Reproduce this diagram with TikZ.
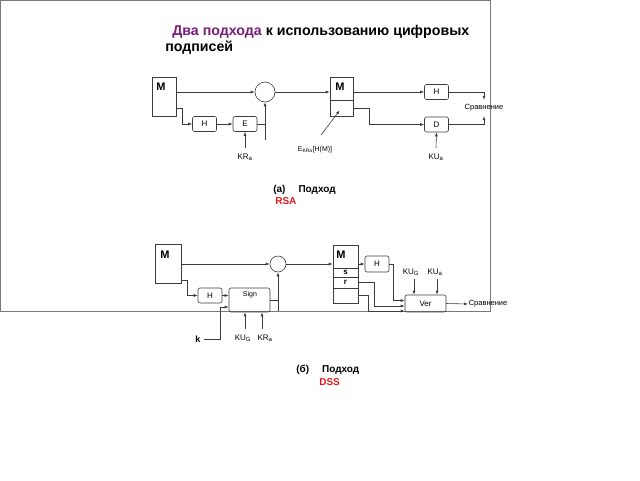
\documentclass[tikz,border=0pt]{standalone}
\usepackage{fontspec}
\setmainfont{Liberation Sans}
\usetikzlibrary{arrows.meta}
\definecolor{titlepurple}{RGB}{120,30,120}
\definecolor{framegray}{RGB}{120,120,120}
\definecolor{linegray}{RGB}{60,60,60}
\definecolor{capred}{RGB}{230,20,30}

\begin{document}
\begin{tikzpicture}[x=1pt,y=-1pt,line width=0.6pt,
		ln/.style={draw=linegray},
		arr/.style={draw=linegray,-{Latex[length=4pt,width=3pt]}},
		sqbox/.style={draw=linegray,inner sep=0pt,minimum width=24pt},
		blk/.style={draw=linegray,rounded corners=2pt,inner sep=0pt,minimum width=24pt,minimum height=15pt,font=\fontsize{8}{8}\selectfont},
		lbl/.style={inner sep=0.5pt,font=\fontsize{8}{8}\selectfont},
		bigm/.style={inner sep=0pt,font=\fontsize{11}{11}\selectfont\bfseries},
		captxt/.style={anchor=west,inner sep=0pt,font=\fontsize{10}{10}\selectfont\bfseries}]
		\useasboundingbox (0,0) rectangle (640,480);
		% border
		\draw[framegray,line width=0.9pt] (0.5,0.5) rectangle (490,311);
		% title
		\node[anchor=west,inner sep=0pt,font=\fontsize{14.2}{15}\selectfont\bfseries] (title1) at (172,32) {\textcolor{titlepurple}{Два подхода} к использованию цифровых};
		\node[anchor=west,inner sep=0pt,font=\fontsize{14.2}{15}\selectfont\bfseries] (title2) at (165,48) {подписей};

		% (a) RSA: blocks
		\node[sqbox,minimum height=39pt] (ma) at (164,96.5) {};
		\node[bigm] (matxt) at (161,87) {M};
		\node[draw=linegray,circle,minimum size=20pt,inner sep=0pt] (suma) at (265,92) {};
		\node[sqbox,minimum width=23pt,minimum height=23pt] (m2a) at (341.5,88.5) {};
		\node[sqbox,minimum width=23pt,minimum height=16pt] (s2a) at (341.5,108) {};
		\node[bigm] (m2atxt) at (340,87) {M};
		\node[blk] (ha) at (204.5,124) {H};
		\node[blk] (ea) at (245,124) {E};
		\node[blk] (hb) at (436.5,92) {H};
		\node[blk] (da) at (436.5,124.5) {D};
		% (a) labels
		\node[lbl] (kra) at (245,157) {KR\textsubscript{a}};
		\node[lbl,font=\fontsize{7}{7}\selectfont] (ekra) at (315,150) {E\textsubscript{KRa}[H(M)]};
		\node[lbl] (kua) at (436,157) {KU\textsubscript{a}};
		\node[lbl,font=\fontsize{7.5}{8}\selectfont] (cmpa) at (484,108) {Сравнение};
		\coordinate (ta) at (265,140);
		\coordinate (pa) at (321,135);
		% (a) connectors
		\draw[arr] (ma.east |- suma) -- (suma.west);
		\draw[arr] (suma.east) -- (m2a.west |- suma);
		\draw[arr] (ma.east |- 0,108) -- ++(6,0) |- (ha.west);
		\draw[arr] (ha) -- (ea);
		\draw[ln] (ea.east) -- (ea.east -| suma.south);
		\draw[arr] (ta) -- (suma.south);
		\draw[arr] ([yshift=5pt]kra.north) -- (ea.south);
		\draw[arr,shorten >=3pt] (pa) -- (s2a.center);
		\draw[arr] (m2a.east |- hb) -- (hb.west);
		\draw[arr] (s2a.east) -- ++(16,0) |- (da.west);
		\draw[arr] ([yshift=5pt]kua.north) -- (da.south);
		\draw[arr] (hb.east) -| ([yshift=4pt]cmpa.north);
		\draw[arr] (da.east) -| ([yshift=-4pt]cmpa.south);
		% (a) caption
		\node[captxt] (capa) at (273,190) {(а)\hspace{1.3em}Подход};
		\node[captxt,capred] (rsa) at (275,201) {RSA};

		% (b) DSS: blocks
		\node[sqbox,minimum width=26pt,minimum height=39pt] (mb) at (168,263.5) {};
		\node[bigm] (mbtxt) at (165,255) {M};
		\node[draw=linegray,circle,minimum size=16pt,inner sep=0pt] (sumb) at (278,264) {};
		\node[blk] (hc) at (210,295.5) {H};
		\node[blk,minimum width=41pt,minimum height=24pt] (sign) at (249.5,300) {};
		\node[lbl,font=\fontsize{7}{7}\selectfont] (signtxt) at (250,295) {Sign};
		\node[sqbox,minimum width=25pt,minimum height=23pt] (m3) at (345.5,256.5) {};
		\node[sqbox,minimum width=25pt,minimum height=9pt,font=\fontsize{8}{8}\selectfont\bfseries] (s3) at (345.5,272.5) {s};
		\node[sqbox,minimum width=25pt,minimum height=11pt,font=\fontsize{8}{8}\selectfont\bfseries] (r3) at (345.5,282.5) {r};
		\node[sqbox,minimum width=25pt,minimum height=15pt] (e3) at (345.5,295.5) {};
		\node[bigm] (m3txt) at (341,255) {M};
		\node[blk,minimum height=16pt] (hd) at (377,264) {H};
		\node[blk,minimum width=41pt,minimum height=17pt] (ver) at (425.5,303.5) {Ver};
		% (b) labels
		\node[lbl,font=\fontsize{9}{9}\selectfont\bfseries] (kk) at (198,339) {k};
		\node[lbl] (kug) at (243,338) {KU\textsubscript{G}};
		\node[lbl] (krb) at (265,338) {KR\textsubscript{a}};
		\node[lbl] (kuvg) at (411,272) {KU\textsubscript{G}};
		\node[lbl] (kuva) at (435,272) {KU\textsubscript{a}};
		\node[lbl,anchor=west,font=\fontsize{7.5}{8}\selectfont] (cmpb) at (468,304) {Сравнение};
		\coordinate (tb) at (278,311);
		% (b) connectors
		\draw[arr] (mb.east |- sumb) -- (sumb.west);
		\draw[arr] (sumb.east) -- (m3.west |- sumb);
		\draw[arr] (mb.east |- 0,280) -- ++(6,0) |- (hc.west);
		\draw[arr] (hc.east) -- (sign.west |- hc.east);
		\draw[ln] (sign.east) -- (sign.east -| sumb.south);
		\draw[arr] (tb) -- (sumb.south);
		\draw[arr] ([xshift=3pt]kk.east) -- ++(16,0) |- ([yshift=-7pt]sign.west);
		\draw[arr] ([xshift=2pt,yshift=5pt]kug.north) -- ([xshift=2pt]kug.north |- sign.south);
		\draw[arr] ([xshift=-3pt,yshift=5pt]krb.north) -- ([xshift=-3pt]krb.north |- sign.south);
		\draw[arr] (m3.east |- hd) -- (hd.west);
		\draw[arr] (hd.east) -- ++(4,0) |- ([yshift=3pt]ver.west);
		\draw[arr] (r3.east) -- ++(16,0) |- ([yshift=-2.5pt]ver.west);
		\draw[arr] (e3.east) -- ++(10,0) |- ([yshift=-7.5pt]ver.west);
		\draw[arr] ([xshift=3pt,yshift=-3pt]kuvg.south) -- ([xshift=3pt]kuvg.south |- ver.north);
		\draw[arr] ([xshift=2pt,yshift=-3pt]kuva.south) -- ([xshift=2pt]kuva.south |- ver.north);
		\draw[arr] (ver.east) -- (cmpb.west);
		% (b) caption
		\node[captxt] (capb) at (296,370) {(б)\hspace{1.3em}Подход};
		\node[captxt,capred] (dss) at (319,382) {DSS};
	\end{tikzpicture}
\end{document}
